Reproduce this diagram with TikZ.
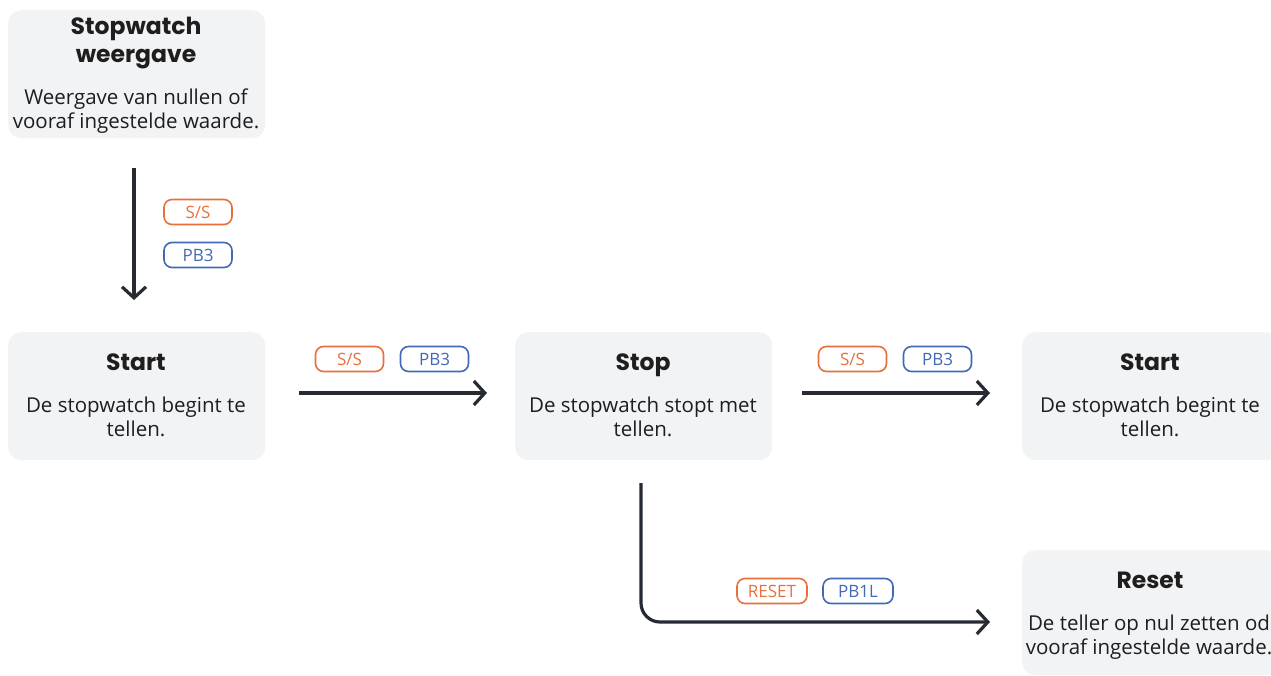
\documentclass[tikz,border=0pt]{standalone}
\usepackage{fontspec}
\setmainfont{Open Sans}
\newfontfamily\titlefont{Poppins}
\usetikzlibrary{arrows.meta,calc}
\definecolor{boxfill}{HTML}{F2F3F5}
\definecolor{arrcol}{HTML}{252A33}
\definecolor{tagorange}{HTML}{E8703A}
\definecolor{tagblue}{HTML}{4268B8}
\definecolor{txt}{HTML}{1E1E1E}
\tikzset{
  panel/.style={fill=boxfill, rounded corners=13pt, minimum width=257pt, minimum height=128pt, inner sep=0pt, anchor=north west},
  ttl/.style={font=\titlefont\bfseries\fontsize{23.5}{28}\selectfont, text=txt, inner sep=0pt, anchor=base},
  body/.style={font=\fontsize{20.5}{24}\selectfont, text=txt, align=center, inner sep=0pt},
  tag/.style={draw, rounded corners=8pt, line width=1.6pt, minimum width=68pt, minimum height=25pt, inner sep=0pt, font=\fontsize{17}{17}\selectfont},
  otag/.style={tag, draw=tagorange, text=tagorange},
  btag/.style={tag, draw=tagblue, text=tagblue},
  arr/.style={draw=arrcol, line width=3.2pt, -{Straight Barb[length=11pt,width=24pt,line width=3.2pt]}},
}
\begin{document}
\begin{tikzpicture}[x=1pt,y=-1pt]
\useasboundingbox (0,0) rectangle (1271,675);
\clip (0,0) rectangle (1271,675);
% panels
\node[panel] (disp) at (8,10) {};
\node[panel] (start) at (8,332) {};
\node[panel] (stop) at (515,332) {};
\node[panel] (start2) at (1022,332) {};
\node[panel, minimum height=125pt] (reset) at (1022,550) {};
% texts
\node[ttl] (dispT) at (136,34) {Stopwatch};
\node[ttl] (dispT2) at (136,62) {weergave};
\node[body] (dispB) at (136,111) {Weergave van nullen of\\vooraf ingestelde waarde.};
\node[ttl] (startT) at (136,370) {Start};
\node[body] (startB) at (136,417) {De stopwatch begint te\\tellen.};
\node[ttl] (stopT) at (643,370) {Stop};
\node[body] (stopB) at (643,417) {De stopwatch stopt met\\tellen.};
\node[ttl] (start2T) at (1150,370) {Start};
\node[body] (start2B) at (1150,417) {De stopwatch begint te\\tellen.};
\node[ttl] (resetT) at (1150,588) {Reset};
\node[body] (resetB) at (1149,637) {De teller op nul zetten od\\vooraf ingestelde waarde.};
% connectors
\coordinate (v1) at (134,168);
\coordinate (v2) at (134,300);
\draw[arr] (v1) -- (v2);
\coordinate (h1a) at (299,393);
\coordinate (h1b) at (487,393);
\draw[arr] (h1a) -- (h1b);
\coordinate (h2a) at (802,393);
\coordinate (h2b) at (990,393);
\draw[arr] (h2a) -- (h2b);
\coordinate (b1) at (641,483);
\coordinate (b2) at (990,622);
\draw[arr, rounded corners=19pt] (b1) |- (b2);
% tags
\node[otag] (t1) at (198,212) {S/S};
\node[btag] (t2) at (198,255) {PB3};
\node[otag] (t3) at (349.5,359) {S/S};
\node[btag] (t4) at (434.5,359) {PB3};
\node[otag] (t5) at (852.5,359) {S/S};
\node[btag] (t6) at (937.5,359) {PB3};
\node[otag, minimum width=70pt] (t7) at (772,591) {RESET};
\node[btag, minimum width=70pt] (t8) at (858,591) {PB1L};
\end{tikzpicture}
\end{document}
